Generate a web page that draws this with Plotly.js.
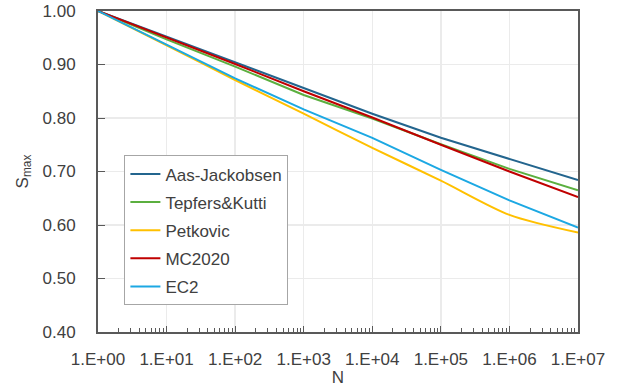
<!DOCTYPE html>
<html>
<head>
<meta charset="utf-8">
<script src="https://cdn.plot.ly/plotly-3.0.1.min.js"></script>
<style>
  html, body { margin: 0; padding: 0; background: #fff; }
  #chart { width: 630px; height: 392px; }
</style>
</head>
<body>
<div id="chart"></div>
<script>
// Number of cycles (one point per decade)
const cycles = [1, 1e1, 1e2, 1e3, 1e4, 1e5, 1e6, 1e7];

// Maximum stress level S_max for each fatigue model
const aasJackobsen = [1.000, 0.952, 0.903, 0.855, 0.808, 0.763, 0.723, 0.684];
const tepfersKutti = [1.000, 0.947, 0.896, 0.843, 0.799, 0.751, 0.705, 0.665];
const petkovic     = [1.000, 0.936, 0.871, 0.808, 0.744, 0.683, 0.619, 0.586];
const mc2020       = [1.000, 0.951, 0.901, 0.850, 0.801, 0.750, 0.700, 0.652];
const ec2          = [1.000, 0.937, 0.874, 0.816, 0.763, 0.703, 0.646, 0.595];

const seriesNames = ['Aas-Jackobsen', 'Tepfers&Kutti', 'Petkovic', 'MC2020', 'EC2'];

// Axis tick labels
const xTickVals = [1, 1e1, 1e2, 1e3, 1e4, 1e5, 1e6, 1e7];
const xTickText = ['1.E+00', '1.E+01', '1.E+02', '1.E+03', '1.E+04', '1.E+05', '1.E+06', '1.E+07'];

const colors = ['#23658E', '#5BAF3F', '#FFC000', '#C00000', '#1CA8E3'];
const values = [aasJackobsen, tepfersKutti, petkovic, mc2020, ec2];

// minor ticks at 2..9 within every decade
const minorTicks = [];
for (let d = 0; d < 7; d++) {
  for (let k = 2; k <= 9; k++) minorTicks.push(k * Math.pow(10, d));
}

const traces = values.map((ys, i) => ({
  type: 'scatter',
  mode: 'lines',
  x: cycles,
  y: ys,
  name: seriesNames[i],
  legendgroup: 'g' + i,
  line: {
    color: colors[i],
    width: 2,
    shape: seriesNames[i] === 'Petkovic' ? 'spline' : 'linear',
    smoothing: 0.8
  }
}));

const axisColor = '#595959';
const textColor = '#404040';
const font = { family: 'Liberation Sans, Arial, sans-serif', size: 17, color: textColor };

const layout = {
  width: 630,
  height: 392,
  margin: { l: 98, r: 52, t: 11, b: 60 },
  paper_bgcolor: '#ffffff',
  plot_bgcolor: '#ffffff',
  font: font,
  showlegend: true,
  legend: {
    x: 0.055, y: 0.55,
    xanchor: 'left', yanchor: 'top',
    bgcolor: '#ffffff',
    bordercolor: '#A6A6A6',
    borderwidth: 1,
    font: { family: font.family, size: 17, color: textColor },
    traceorder: 'grouped',
    tracegroupgap: 3,
    itemwidth: 30
  },
  xaxis: {
    type: 'log',
    range: [0, 7],
    tickmode: 'array',
    tickvals: xTickVals,
    ticktext: xTickText,
    ticks: 'inside',
    ticklen: 6,
    tickwidth: 1,
    tickcolor: axisColor,
    ticklabelstandoff: 11,
    minor: {
      tickmode: 'array',
      tickvals: minorTicks,
      ticks: 'inside',
      ticklen: 4,
      tickwidth: 1,
      tickcolor: axisColor,
      showgrid: false
    },
    showgrid: true,
    gridcolor: '#EBEBEB',
    gridwidth: 1.5,
    showline: true,
    linecolor: axisColor,
    linewidth: 2,
    mirror: true,
    zeroline: false,
    tickfont: font,
    title: { text: 'N', font: font, standoff: 3 }
  },
  yaxis: {
    range: [0.4, 1.0],
    dtick: 0.1,
    tick0: 0.4,
    tickformat: '.2f',
    ticks: 'inside',
    ticklen: 7,
    tickwidth: 1,
    tickcolor: axisColor,
    ticklabelstandoff: 17,
    showgrid: true,
    gridcolor: '#EBEBEB',
    gridwidth: 1.5,
    showline: true,
    linecolor: axisColor,
    linewidth: 2,
    mirror: true,
    zeroline: false,
    tickfont: font,
    title: { text: 'S<sub>max</sub>', font: font, standoff: 10 }
  }
};

Plotly.newPlot('chart', traces, layout, { displayModeBar: false, staticPlot: true });
</script>
</body>
</html>
